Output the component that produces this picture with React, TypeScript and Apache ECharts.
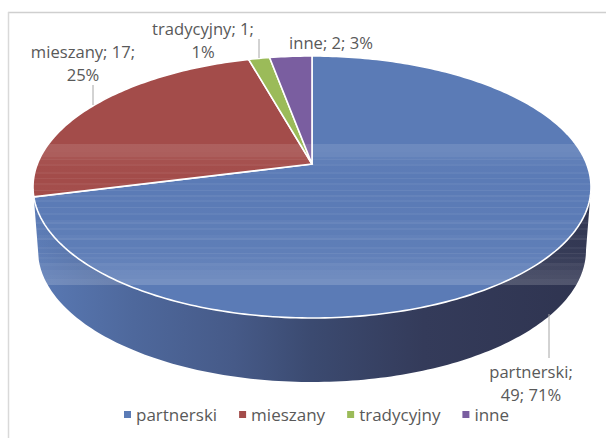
import React, { useEffect, useRef } from "react";
import * as echarts from "echarts";

const categories = ["partnerski", "mieszany", "tradycyjny", "inne"];
const values = [49, 17, 1, 2];
const colors = ["#5b7bb6", "#a34c4a", "#9bbb59", "#7a5ea0"];
const total = values.reduce((a, b) => a + b, 0);

const TEXT = "#595959";

// perspective disc geometry
const TOP = { cx: 312, cy: 187, rx: 279, ry: 131, hub: 164 };
const BOTTOM = { cx: 312, cy: 250, rx: 274, ry: 132 };
const k = (TOP.hub - TOP.cy) / TOP.ry; // perspective factor
const scaleX = Math.sqrt(1 - k * k);

function project(deg: number, e: { cx: number; cy: number; rx: number; ry: number }) {
  const t = (deg * Math.PI) / 180;
  const u = Math.sin(t);
  const v = -Math.cos(t);
  const d = 1 + k * v;
  return [e.cx + (e.rx * scaleX * u) / d, e.cy + (e.ry * v + k * e.ry) / d];
}
function arc(a: number, b: number, e: any) {
  const n = Math.max(2, Math.ceil(Math.abs(b - a)));
  const pts: number[][] = [];
  for (let i = 0; i <= n; i++) pts.push(project(a + ((b - a) * i) / n, e));
  return pts;
}

const FRONT_START = (Math.acos(k) * 180) / Math.PI; // rightmost rim point

const labelLayout = [
  { x: 531, y: 383, br: "name", line: [549, 314, 549, 358] },
  { x: 83, y: 63, br: "value", line: [93, 85, 93, 105] },
  { x: 203, y: 40, br: "value", line: [259, 39, 259, 58] },
  { x: 331, y: 42, br: "none", line: null as number[] | null },
];

function labelText(i: number) {
  const n = categories[i];
  const v = values[i];
  const p = Math.round((v / total) * 100);
  const br = labelLayout[i].br;
  if (br === "name") return `${n};\n${v}; ${p}%`;
  if (br === "value") return `${n}; ${v};\n${p}%`;
  return `${n}; ${v}; ${p}%`;
}

// [y, white alpha] rows of the lighter banded strip
const bandRows: number[][] = [
  [144, 0.11], [152, 0.1], [157, 0.05], [159, 0.09], [160, 0.03], [164, 0.06], [166, 0.01], [172, 0.05],
  [174, 0.0], [178, 0.06], [179, 0.0], [183, 0.05], [185, 0.01], [190, 0.07], [191, 0.0], [195, 0.06],
  [197, 0.01], [200, 0.05], [202, 0.0], [207, 0.08], [208, 0.01], [213, 0.05], [215, 0.0], [220, 0.04],
  [222, 0.08], [224, 0.02], [228, 0.07], [230, 0.02], [235, 0.05], [238, 0.1], [240, 0.02], [247, 0.07],
  [249, 0.03], [253, 0.1], [254, 0.04], [257, 0.08], [259, 0.05], [263, 0.11], [266, 0.09], [270, 0.12],
  [275, 0.13], [279, 0.16], [285, 0.0],
];

function silhouette() {
  const left: number[][] = [];
  const right: number[][] = [];
  for (let y = 144; y <= 285; y++) {
    let half: number;
    if (y <= TOP.cy) half = TOP.rx * Math.sqrt(1 - ((y - TOP.cy) / TOP.ry) ** 2);
    else if (y >= BOTTOM.cy) half = BOTTOM.rx * Math.sqrt(1 - ((y - BOTTOM.cy) / BOTTOM.ry) ** 2);
    else half = TOP.rx + ((BOTTOM.rx - TOP.rx) * (y - TOP.cy)) / (BOTTOM.cy - TOP.cy);
    left.push([TOP.cx - half, y]);
    right.unshift([TOP.cx + half, y]);
  }
  return left.concat(right);
}

function bandStops() {
  const stops: any[] = [];
  const span = 285 - 144;
  bandRows.forEach(([y, a], i) => {
    const next = i < bandRows.length - 1 ? bandRows[i + 1][0] : 285;
    const c = `rgba(255,255,255,${a})`;
    stops.push({ offset: (y - 144) / span, color: c });
    stops.push({ offset: (next - 144) / span, color: c });
  });
  return stops;
}

const wallFill = () =>
  new echarts.graphic.LinearGradient(
    33, 0, 591, 0,
    [
      { offset: 0, color: "#5a7ab5" },
      { offset: 0.18, color: "#4e689c" },
      { offset: 0.36, color: "#465a88" },
      { offset: 0.5, color: "#3b4a70" },
      { offset: 0.7, color: "#343b5a" },
      { offset: 1, color: "#2f3450" },
    ],
    true
  );

function makeRender(i: number) {
  return (_p: any, api: any) => {
    const prev = values.slice(0, i).reduce((a, b) => a + b, 0);
    const start = (prev / total) * 360;
    const end = ((prev + api.value(0)) / total) * 360;
    const children: any[] = [];
    const layout = labelLayout[i];
    if (i === 0) {
      const a = Math.max(start, FRONT_START);
      const pts = arc(a, end, TOP).concat(arc(a, end, BOTTOM).reverse());
      children.push({ type: "polygon", shape: { points: pts }, style: { fill: wallFill() } });
    }
    children.push({
      type: "polygon",
      shape: { points: [[TOP.cx, TOP.hub], ...arc(start, end, TOP)] },
      style: { fill: colors[i], stroke: "#ffffff", lineWidth: 1.6, lineJoin: "miter" },
    });
    if (layout.line) {
      const [x1, y1, x2, y2] = layout.line;
      children.push({
        type: "line",
        z2: 5,
        shape: { x1, y1, x2, y2 },
        style: { stroke: "#a6a6a6", lineWidth: 1 },
      });
    }
    children.push({
      type: "text",
      z2: 6,
      style: {
        x: layout.x,
        y: layout.y,
        text: labelText(i),
        align: "center",
        verticalAlign: "middle",
        fill: TEXT,
        fontSize: 16.6,
        fontFamily: "Open Sans",
        lineHeight: 23.5,
      },
    });
    return { type: "group", children };
  };
}

export default function App() {
  const ref = useRef<HTMLDivElement>(null);
  useEffect(() => {
    document.body.style.margin = "0";
    const chart = echarts.init(ref.current!, undefined, { renderer: "svg" });
    chart.setOption({
      animation: false,
      backgroundColor: "#ffffff",
      legend: {
        data: categories,
        left: 119,
        top: 401,
        icon: "rect",
        itemWidth: 7,
        itemHeight: 7,
        itemGap: 22,
        textStyle: { color: TEXT, fontSize: 17, fontFamily: "Open Sans" },
      },
      series: categories.map((name, i) => ({
        type: "custom",
        name,
        coordinateSystem: "none",
        silent: true,
        z: i === 0 ? 2 : 3,
        itemStyle: { color: colors[i] },
        data: [[values[i]]],
        renderItem: makeRender(i),
      })),
      graphic: [
        {
          type: "polygon",
          silent: true,
          z: 10,
          shape: { points: silhouette() },
          style: {
            fill: new echarts.graphic.LinearGradient(0, 144, 0, 285, bandStops(), true),
          },
        },
        { type: "line", silent: true, shape: { x1: 8, y1: 12.5, x2: 606, y2: 12.5 }, style: { stroke: "#cfcfcf", lineWidth: 1.5 } },
        { type: "line", silent: true, shape: { x1: 8.5, y1: 12, x2: 8.5, y2: 438 }, style: { stroke: "#d9d9d9", lineWidth: 1.5 } },
      ],
    });
    return () => chart.dispose();
  }, []);
  return <div ref={ref} style={{ position: "fixed", left: 0, top: 0, width: 606, height: 438 }} />;
}
